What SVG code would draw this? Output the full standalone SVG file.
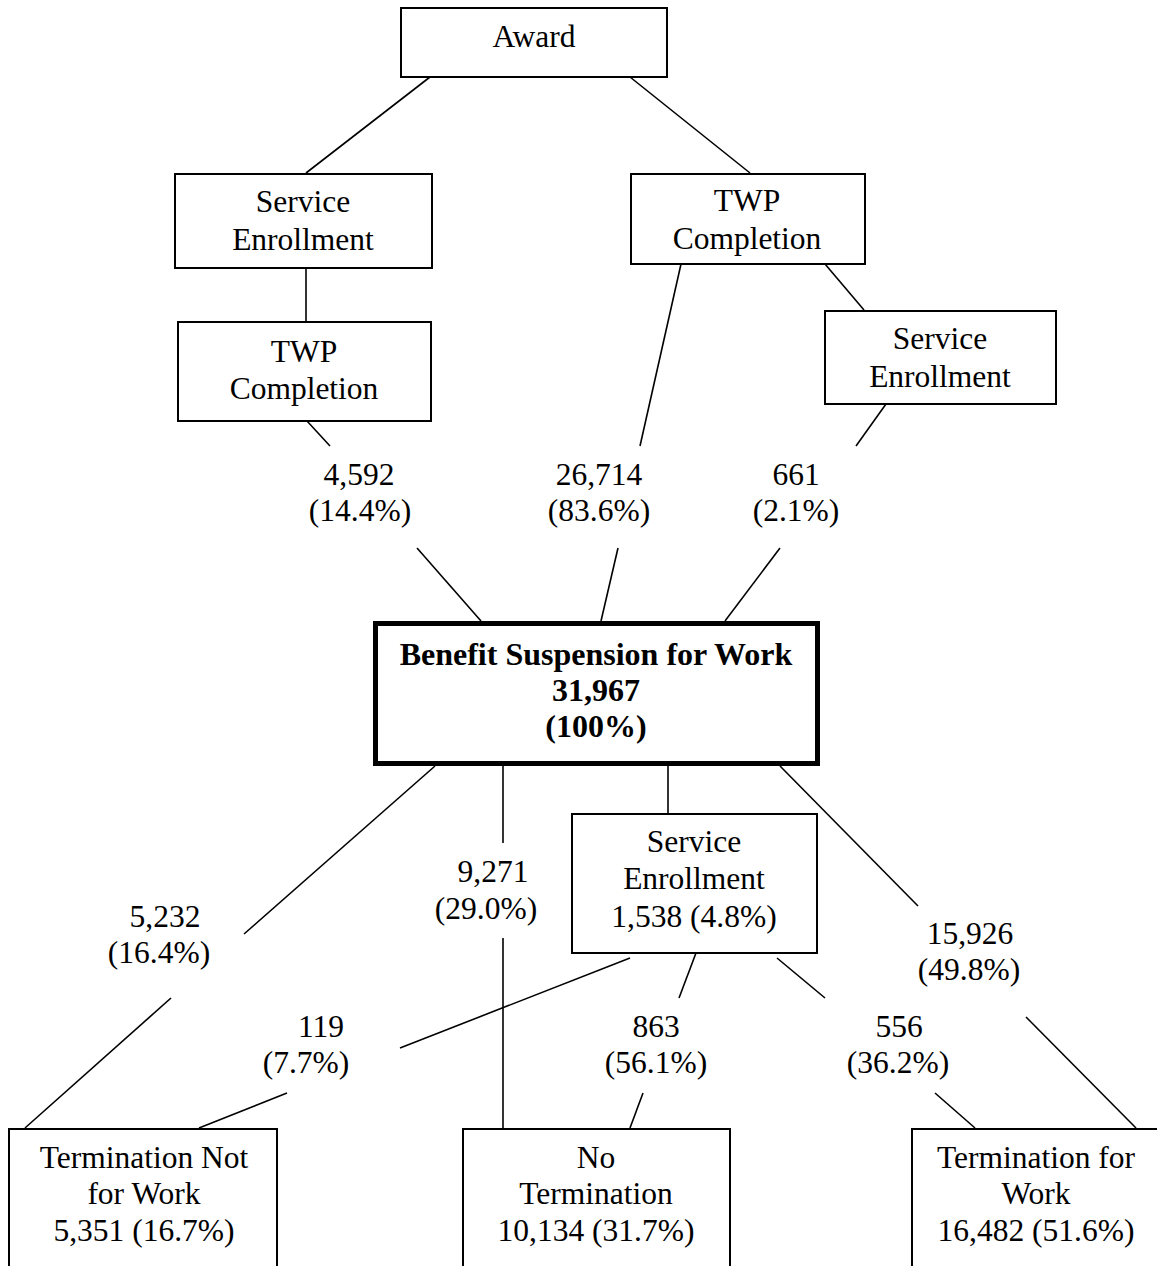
<svg xmlns="http://www.w3.org/2000/svg" width="1157" height="1266" viewBox="0 0 1157 1266">
<style>
.box{fill:#fff;stroke:#000;stroke-width:2}
.main{fill:#fff;stroke:#000;stroke-width:5}
.t{font-family:"Liberation Serif","Times New Roman",serif;font-size:31.5px;fill:#000;text-anchor:middle}
.b{font-weight:bold;font-size:32px}
.c line{stroke:#000;stroke-width:1.6}
</style>
<rect width="1157" height="1266" fill="#fff"/>
<g id="connectors" class="c">
<line x1="430" y1="77" x2="306" y2="173"/>
<line x1="630" y1="77" x2="750" y2="173"/>
<line x1="306" y1="268" x2="306" y2="322"/>
<line x1="825" y1="264" x2="864" y2="310"/>
<line x1="307" y1="421" x2="330" y2="446"/>
<line x1="417" y1="548" x2="481" y2="621"/>
<line x1="681" y1="264" x2="640" y2="446"/>
<line x1="618" y1="548" x2="601" y2="621"/>
<line x1="886" y1="404" x2="856" y2="446"/>
<line x1="780" y1="548" x2="725" y2="621"/>
<line x1="435" y1="766" x2="244" y2="934"/>
<line x1="171" y1="998" x2="25" y2="1128"/>
<line x1="503" y1="766" x2="503" y2="843"/>
<line x1="503" y1="938" x2="503" y2="1128"/>
<line x1="668" y1="766" x2="668" y2="813"/>
<line x1="780" y1="766" x2="918" y2="906"/>
<line x1="1026" y1="1017" x2="1136" y2="1128"/>
<line x1="630" y1="958" x2="400" y2="1048"/>
<line x1="287" y1="1093" x2="199" y2="1128"/>
<line x1="696" y1="953" x2="679" y2="998"/>
<line x1="643" y1="1093" x2="630" y2="1128"/>
<line x1="777" y1="958" x2="825" y2="998"/>
<line x1="935" y1="1093" x2="975" y2="1128"/>
</g>
<g id="labels" class="t">
<text x="359" y="485">4,592</text><text x="360" y="521">(14.4%)</text>
<text x="599" y="485">26,714</text><text x="599" y="521">(83.6%)</text>
<text x="796" y="485">661</text><text x="796" y="521">(2.1%)</text>
<text x="165" y="927">5,232</text><text x="159" y="963">(16.4%)</text>
<text x="493" y="882">9,271</text><text x="486" y="919">(29.0%)</text>
<text x="970" y="944">15,926</text><text x="969" y="980">(49.8%)</text>
<text x="321" y="1037">119</text><text x="306" y="1073">(7.7%)</text>
<text x="656" y="1037">863</text><text x="656" y="1073">(56.1%)</text>
<text x="899" y="1037">556</text><text x="898" y="1073">(36.2%)</text>
</g>
<g id="award"><rect class="box" x="401" y="8" width="266" height="69"/><text class="t" x="534" y="47">Award</text></g>
<g id="se-left"><rect class="box" x="175" y="174" width="257" height="94"/><text class="t" x="303" y="212">Service</text><text class="t" x="303" y="250">Enrollment</text></g>
<g id="twp-right"><rect class="box" x="631" y="174" width="234" height="90"/><text class="t" x="747" y="211">TWP</text><text class="t" x="747" y="249">Completion</text></g>
<g id="twp-left"><rect class="box" x="178" y="322" width="253" height="99"/><text class="t" x="304" y="362">TWP</text><text class="t" x="304" y="399">Completion</text></g>
<g id="se-right"><rect class="box" x="825" y="311" width="231" height="93"/><text class="t" x="940" y="349">Service</text><text class="t" x="940" y="387">Enrollment</text></g>
<g id="suspension"><rect class="main" x="375.5" y="623.5" width="442" height="140"/><text class="t b" x="596" y="665">Benefit Suspension for Work</text><text class="t b" x="596" y="701">31,967</text><text class="t b" x="596" y="737">(100%)</text></g>
<g id="se-bottom"><rect class="box" x="572" y="814" width="245" height="139"/><text class="t" x="694" y="852">Service</text><text class="t" x="694" y="889">Enrollment</text><text class="t" x="694" y="927">1,538 (4.8%)</text></g>
<g id="term-not-work"><rect class="box" x="9" y="1129" width="268" height="160"/><text class="t" x="144" y="1168">Termination Not</text><text class="t" x="144" y="1204">for Work</text><text class="t" x="144" y="1241">5,351 (16.7%)</text></g>
<g id="no-term"><rect class="box" x="463" y="1129" width="267" height="160"/><text class="t" x="596" y="1168">No</text><text class="t" x="596" y="1204">Termination</text><text class="t" x="596" y="1241">10,134 (31.7%)</text></g>
<g id="term-work"><rect class="box" x="912" y="1129" width="270" height="160"/><text class="t" x="1036" y="1168">Termination for</text><text class="t" x="1036" y="1204">Work</text><text class="t" x="1036" y="1241">16,482 (51.6%)</text></g>
</svg>
